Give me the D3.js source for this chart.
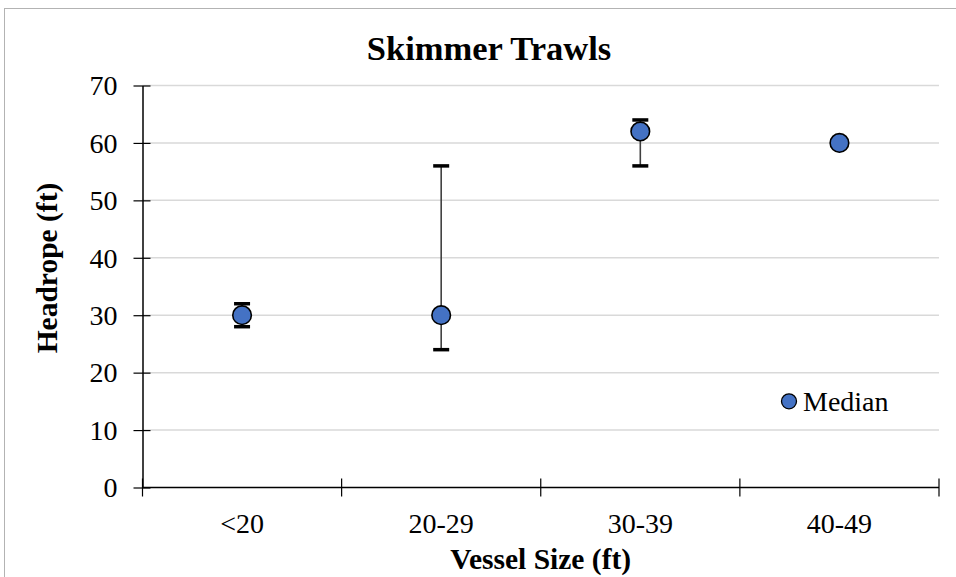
<!DOCTYPE html>
<html><head><meta charset="utf-8">
<script src="https://cdn.jsdelivr.net/npm/d3@7"></script>
<style>body{margin:0;background:#fff}svg{display:block}text{font-family:"Liberation Serif","Times New Roman",serif}</style>
</head><body>
<svg id="c" width="956" height="577"></svg>
<script>
const categories = ["<20", "20-29", "30-39", "40-49"];
const medians = [30, 30, 62, 60];
const mins = [28, 24, 56, null];
const maxs = [32, 56, 64, null];
const yTicks = [0, 10, 20, 30, 40, 50, 60, 70];

const svg = d3.select("#c");
const L = 142.5, R = 939, T = 85.5, B = 487.5;
svg.append("rect").attr("x", 4.5).attr("y", 8.5).attr("width", 1000).attr("height", 700)
  .attr("fill", "none").attr("stroke", "#b3b3b3").attr("stroke-width", 1);

const x = d3.scaleBand().domain(categories).range([L, R]);
const y = d3.scaleLinear().domain([0, 70]).range([B, T]);

// grid
svg.append("g").selectAll("line").data(yTicks.filter(d => d > 0)).join("line")
  .attr("x1", L).attr("x2", R).attr("y1", d => y(d)).attr("y2", d => y(d))
  .attr("stroke", "#d9d9d9").attr("stroke-width", 1.5);

// y axis
const ya = svg.append("g").attr("transform", `translate(${L},0)`)
  .call(d3.axisLeft(y).tickValues(yTicks).tickSize(9).tickPadding(16).tickSizeOuter(0));
ya.select(".domain").attr("stroke", "#000").attr("stroke-width", 1.5);
ya.selectAll(".tick line").attr("stroke", "#000").attr("stroke-width", 1.2).attr("x2", -9).attr("x1", 8);
ya.selectAll("text").attr("font-size", 28).attr("fill", "#000").attr("font-family", "Liberation Serif").attr("dy", "0.33em");

// x axis
const xa = svg.append("g").attr("transform", `translate(0,${B})`)
  .call(d3.axisBottom(x).tickSize(0).tickPadding(25.5));
xa.select(".domain").remove();
svg.append("line").attr("x1", L).attr("x2", R).attr("y1", B).attr("y2", B).attr("stroke", "#000").attr("stroke-width", 1.5);
const bounds = categories.map(c => x(c)).concat([x(categories[categories.length - 1]) + x.bandwidth()]);
svg.append("g").selectAll("line").data(bounds).join("line")
  .attr("x1", d => d).attr("x2", d => d).attr("y1", B - 9).attr("y2", B + 9)
  .attr("stroke", "#000").attr("stroke-width", 1.2);
xa.selectAll("text").attr("font-size", 28).attr("fill", "#000").attr("font-family", "Liberation Serif");

const cx = c => x(c) + x.bandwidth() / 2;

// error bars
const eb = categories.map((c, i) => ({c, lo: mins[i], hi: maxs[i]})).filter(d => d.lo != null);
const g = svg.append("g");
g.selectAll("line.v").data(eb).join("line").attr("class", "v")
  .attr("x1", d => cx(d.c)).attr("x2", d => cx(d.c)).attr("y1", d => y(d.lo)).attr("y2", d => y(d.hi))
  .attr("stroke", "#404040").attr("stroke-width", 1.6);
eb.forEach(d => {
  [d.lo, d.hi].forEach(v => {
    g.append("line").attr("x1", cx(d.c) - 8).attr("x2", cx(d.c) + 8).attr("y1", y(v)).attr("y2", y(v))
      .attr("stroke", "#000").attr("stroke-width", 3.5);
  });
});

// markers
svg.append("g").selectAll("circle").data(categories).join("circle")
  .attr("cx", d => cx(d)).attr("cy", (d, i) => y(medians[i])).attr("r", 9.3)
  .attr("fill", "#4472c4").attr("stroke", "#000").attr("stroke-width", 1.6);

// legend
svg.append("circle").attr("cx", 789).attr("cy", y(15)).attr("r", 7.5).attr("fill", "#4472c4").attr("stroke", "#000").attr("stroke-width", 1.3);
svg.append("text").attr("x", 803).attr("y", y(15)).attr("dy", "0.33em").attr("font-size", 28).text("Median");

// titles
svg.append("text").attr("x", 489).attr("y", 60).attr("text-anchor", "middle").attr("font-size", 34.5).attr("font-weight", "bold").text("Skimmer Trawls");
svg.append("text").attr("x", (L + R) / 2).attr("y", 569).attr("text-anchor", "middle").attr("font-size", 29.5).attr("font-weight", "bold").text("Vessel Size (ft)");
svg.append("text").attr("transform", `translate(57,268) rotate(-90)`).attr("text-anchor", "middle").attr("font-size", 29.5).attr("font-weight", "bold").text("Headrope (ft)");
</script>
</body></html>
